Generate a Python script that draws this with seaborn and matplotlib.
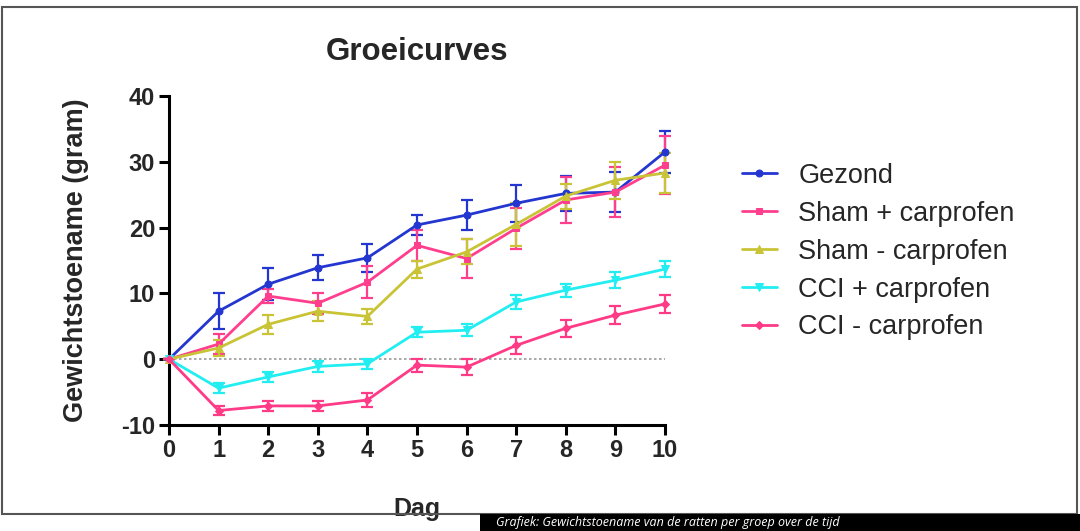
import matplotlib
matplotlib.use("Agg")
import matplotlib.pyplot as plt
import matplotlib.patches as mpatches
import seaborn as sns
import pandas as pd
import numpy as np

days = [0, 1, 2, 3, 4, 5, 6, 7, 8, 9, 10]
groups = ["Gezond", "Sham + carprofen", "Sham - carprofen", "CCI + carprofen", "CCI - carprofen"]

gezond = [0, 7.3, 11.4, 13.9, 15.4, 20.4, 21.9, 23.7, 25.2, 25.4, 31.5]
gezond_err = [0, 2.7, 2.4, 1.9, 2.1, 1.5, 2.3, 2.8, 2.7, 3.1, 3.2]
sham_plus = [0, 2.3, 9.6, 8.5, 11.7, 17.3, 15.3, 19.9, 24.2, 25.4, 29.5]
sham_plus_err = [0, 1.5, 1.1, 1.6, 2.4, 2.3, 2.9, 3.1, 3.5, 3.8, 4.4]
sham_min = [0, 1.7, 5.3, 7.3, 6.5, 13.7, 16.3, 20.5, 24.8, 27.2, 28.3]
sham_min_err = [0, 1.2, 1.4, 1.5, 1.1, 1.3, 1.9, 3.3, 1.9, 2.8, 3.0]
cci_plus = [0, -4.4, -2.7, -1.1, -0.7, 4.1, 4.4, 8.7, 10.5, 12.0, 13.7]
cci_plus_err = [0, 0.8, 0.8, 0.9, 0.8, 0.8, 0.9, 1.0, 1.0, 1.2, 1.2]
cci_min = [0, -7.8, -7.1, -7.1, -6.2, -0.9, -1.2, 2.1, 4.7, 6.7, 8.4]
cci_min_err = [0, 0.7, 0.8, 0.8, 1.0, 1.0, 1.2, 1.3, 1.3, 1.4, 1.4]

values = [gezond, sham_plus, sham_min, cci_plus, cci_min]
errors = [gezond_err, sham_plus_err, sham_min_err, cci_plus_err, cci_min_err]
colors = ["#2336D0", "#FF3F8E", "#C9C436", "#22EEF2", "#FF3A86"]
markers = ["o", "s", "^", "v", "D"]
msizes = [5, 5, 5.5, 5.5, 4]

df = pd.DataFrame({
    "Dag": np.tile(days, len(groups)),
    "Waarde": np.concatenate(values),
    "Groep": np.repeat(groups, len(days)),
})

sns.set_style("white")
plt.rcParams["font.family"] = ["Liberation Sans", "DejaVu Sans"]
plt.rcParams["axes.unicode_minus"] = False

fig = plt.figure(figsize=(10.8, 5.31), dpi=100)
ax = fig.add_axes([169 / 1080, 1 - 425 / 531, (665 - 169) / 1080, (425 - 96) / 531])

ax.axhline(0, color="#9a9a9a", lw=1.2, ls=(0, (1.5, 1.5)), zorder=1)

for g, vals, err, c, m, ms in zip(groups, values, errors, colors, markers, msizes):
    sub = df[df["Groep"] == g]
    ax.errorbar(sub["Dag"], vals, yerr=err, fmt="none", ecolor=c, elinewidth=1.6,
                capsize=4, capthick=1.6, clip_on=False, zorder=2)
    sns.lineplot(data=sub, x="Dag", y="Waarde", ax=ax, color=c, lw=2, marker=m,
                 markersize=ms, markeredgecolor=c, label=g, clip_on=False, zorder=3)

ax.set_xlim(0, 10)
ax.set_ylim(-10, 40)
ax.set_xticks(days)
ax.set_yticks([-10, 0, 10, 20, 30, 40])
for s in ["top", "right"]:
    ax.spines[s].set_visible(False)
for s in ["left", "bottom"]:
    ax.spines[s].set_linewidth(2.2)
    ax.spines[s].set_color("black")
ax.tick_params(axis="both", direction="out", length=7, width=2.2, color="black",
               labelsize=17, pad=3, bottom=True, left=True)
for lab in ax.get_xticklabels() + ax.get_yticklabels():
    lab.set_fontweight("bold")

ax.set_xlabel("Dag", fontsize=18, fontweight="bold", labelpad=25)
ax.set_ylabel("Gewichtstoename (gram)", fontsize=19.5, fontweight="bold", labelpad=23)
ax.set_title("Groeicurves", fontsize=22.5, fontweight="bold", pad=26)

leg = ax.legend(loc="upper left", bbox_to_anchor=(1.155, 0.797), frameon=False,
                fontsize=19.5, handlelength=1.3, handletextpad=0.78, labelspacing=0.44,
                borderpad=0, borderaxespad=0)
for h in leg.legend_handles:
    h.set_linewidth(2)

# outer frame
fig.patches.append(mpatches.Rectangle((2 / 1080, 1 - 514 / 531), 1075 / 1080, (514 - 7) / 531,
                                      transform=fig.transFigure, fill=False,
                                      edgecolor="#555555", lw=1.5))
# black caption box at bottom right
fig.patches.append(mpatches.Rectangle((480 / 1080, 0), 600 / 1080, 17 / 531,
                                      transform=fig.transFigure, facecolor="black",
                                      edgecolor="none"))
fig.text(496 / 1080, 8.5 / 531, "Grafiek: Gewichtstoename van de ratten per groep over de tijd",
         color="white", fontsize=9, style="italic", va="center", ha="left",
         family=["Open Sans", "DejaVu Sans"])

fig.savefig("out.png", dpi=100)
